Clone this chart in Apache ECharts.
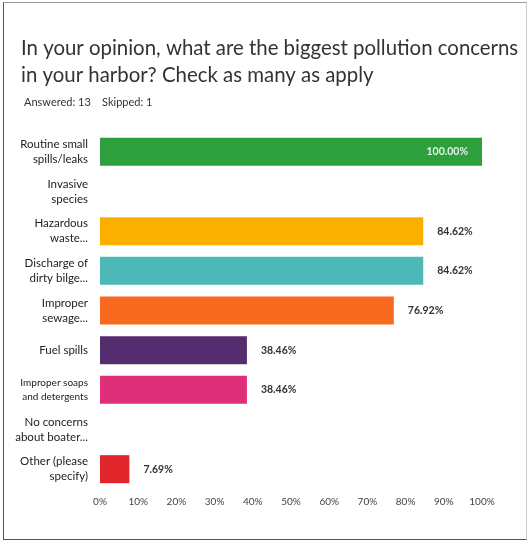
<!DOCTYPE html>
<html>
<head>
<meta charset="utf-8">
<script src="https://cdn.jsdelivr.net/npm/echarts@6/dist/echarts.min.js"></script>
<style>
  html, body { margin: 0; padding: 0; background: #fff; }
  #chart { width: 532px; height: 544px; }
  #frame { position: absolute; left: 3px; top: 2px; width: 524px; height: 538px;
           border: 1px solid #555; border-top-color: #999; border-right-color: #ccc; box-sizing: border-box; pointer-events: none; }
</style>
</head>
<body>
<div id="chart"></div>
<div id="frame"></div>
<script>
// answers, top to bottom
var categories = [
    'Routine small\nspills/leaks',
    'Invasive\nspecies',
    'Hazardous\nwaste...',
    'Discharge of\ndirty bilge...',
    'Improper\nsewage...',
    'Fuel spills',
    'Improper soaps\nand detergents',
    'No concerns\nabout boater...',
    'Other (please\nspecify)'
];
var percents = [100, 0, 84.62, 84.62, 76.92, 38.46, 38.46, 0, 7.69];
var barColors = ['#2d9f3c', '#888888', '#fbb000', '#4cb8b8', '#f76a1f', '#552d6e', '#df2f79', '#888888', '#e0262b'];
var tickLabels = ['0%', '10%', '20%', '30%', '40%', '50%', '60%', '70%', '80%', '90%', '100%'];

var chart = echarts.init(document.getElementById('chart'));

var barData = percents.map(function (v, i) {
    var item = { value: v, itemStyle: { color: barColors[i] } };
    if (v === 0) {
        item.label = { show: false };
    } else if (v >= 100) {
        item.label = { position: 'insideRight', color: '#e8f0e8', offset: [0, 0] };
    }
    return item;
});

var option = {
    animation: false,
    textStyle: { fontFamily: 'Lato, "Noto Sans", sans-serif' },
    title: [
        {
            text: 'In your opinion, what are the biggest pollution concerns\nin your harbor? Check as many as apply',
            left: 16,
            top: 30,
            textStyle: { fontSize: 20.4, fontWeight: 'normal', color: '#333', lineHeight: 27, fontFamily: 'Lato, "Noto Sans", sans-serif' }
        },
        {
            text: 'Answered: 13    Skipped: 1',
            left: 19,
            top: 92,
            textStyle: { fontSize: 11, fontWeight: 'normal', color: '#333' }
        }
    ],
    grid: { left: 100, right: 50, top: 132, bottom: 55, containLabel: false },
    xAxis: {
        type: 'value',
        min: 0,
        max: 100,
        interval: 10,
        axisLine: { show: false },
        axisTick: { show: false },
        splitLine: { show: false },
        axisLabel: {
            margin: 8,
            fontSize: 10,
            color: '#444',
            formatter: function (v) { return tickLabels[Math.round(v / 10)]; }
        }
    },
    yAxis: {
        type: 'category',
        inverse: true,
        data: categories,
        axisLine: { show: false },
        axisTick: { show: false },
        axisLabel: {
            margin: 12,
            fontSize: 11.5,
            color: '#222',
            lineHeight: 15,
            formatter: function (v, i) {
                return i === 6 ? '{s|' + v.split('\n').join('}\n{s|') + '}' : v;
            },
            rich: { s: { fontSize: 10, lineHeight: 14, color: '#222' } }
        }
    },
    series: [
        {
            type: 'bar',
            data: barData,
            barWidth: 28,
            label: {
                show: true,
                position: 'right',
                distance: 14,
                fontSize: 10.5,
                fontWeight: 'bold',
                color: '#333',
                formatter: function (p) { return p.value.toFixed(2) + '%'; }
            }
        }
    ]
};

chart.setOption(option);
</script>
</body>
</html>
